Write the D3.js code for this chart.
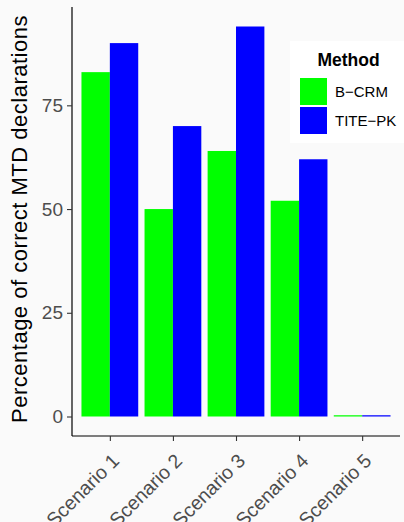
<!DOCTYPE html>
<html>
<head>
<meta charset="utf-8">
<script src="https://cdn.jsdelivr.net/npm/d3@7"></script>
<style>
  body { margin: 0; background: #fafafa; }
  svg { display: block; font-family: "Liberation Sans", Arial, sans-serif; }
</style>
</head>
<body>
<svg id="chart"></svg>
<script>
// data
const scenarios = ["Scenario 1", "Scenario 2", "Scenario 3", "Scenario 4", "Scenario 5"];
const methods = ["B\u2212CRM", "TITE\u2212PK"];
const bcrm = [83, 50, 64, 52, 0.3];
const titepk = [90, 70, 94, 62, 0.3];
const yTicks = [0, 25, 50, 75];
const colors = ["#00ff00", "#0000ff"];

const width = 404, height = 522;
const svg = d3.select("#chart").attr("width", width).attr("height", height);
svg.append("rect").attr("width", width).attr("height", height).attr("fill", "#fafafa");

const mLeft = 72, mRight = 400, mTop = 7, mBottom = 436;

// ggplot-like expand: discrete 0.6, continuous 5%
const x = d3.scaleLinear().domain([0.4, scenarios.length + 0.6]).range([mLeft, mRight]);
const maxV = d3.max(bcrm.concat(titepk));
const y = d3.scaleLinear().domain([-maxV * 0.05, maxV * 1.05]).range([mBottom, mTop]);

const barW = 0.45; // each dodge bar, total 0.9
const series = [bcrm, titepk];

series.forEach((vals, s) => {
  svg.append("g")
    .selectAll("rect")
    .data(vals)
    .join("rect")
    .attr("x", (d, i) => x(i + 1 - 0.45 + s * barW))
    .attr("width", x(barW) - x(0))
    .attr("y", d => y(d))
    .attr("height", d => y(0) - y(d))
    .attr("fill", colors[s]);
});

// y axis
const yAxis = svg.append("g")
  .attr("transform", `translate(${mLeft},0)`)
  .call(d3.axisLeft(y).tickValues(yTicks).tickSize(5).tickPadding(4));
yAxis.select(".domain").attr("d", `M0,${mTop}V${mBottom}`).attr("stroke", "#000").attr("stroke-width", 1.2);
yAxis.selectAll(".tick line").attr("stroke", "#333").attr("stroke-width", 1.1);
yAxis.selectAll(".tick text").attr("fill", "#4d4d4d").style("font-size", "19px");

// x axis
const xAxis = svg.append("g")
  .attr("transform", `translate(0,${mBottom})`)
  .call(d3.axisBottom(x).tickValues(d3.range(1, scenarios.length + 1))
    .tickFormat(d => scenarios[d - 1]).tickSize(5));
xAxis.select(".domain").attr("d", `M${mLeft},0H${mRight}`).attr("stroke", "#000").attr("stroke-width", 1.2);
xAxis.selectAll(".tick line").attr("stroke", "#333").attr("stroke-width", 1.1);
xAxis.selectAll(".tick text")
  .attr("fill", "#4d4d4d")
  .style("font-size", "19.5px")
  .attr("text-anchor", "end")
  .attr("x", 0).attr("y", 0)
  .attr("dy", null)
  .attr("transform", "translate(10,26) rotate(-45)");

// y title
svg.append("text")
  .attr("transform", `translate(27,219) rotate(-90)`)
  .attr("text-anchor", "middle")
  .style("font-size", "22px")
  .style("letter-spacing", "0.5px")
  .attr("fill", "#000")
  .text("Percentage of correct MTD declarations");

// legend
const lg = svg.append("g").attr("transform", "translate(290,41)");
lg.append("rect").attr("width", 114).attr("height", 102).attr("fill", "#fff");
lg.append("text").attr("x", 58.5).attr("y", 25)
  .attr("text-anchor", "middle")
  .style("font-size", "17.5px").style("font-weight", "bold")
  .text("Method");
methods.forEach((m, i) => {
  lg.append("rect").attr("x", 10).attr("y", 37 + i * 29).attr("width", 27).attr("height", 27).attr("fill", colors[i]);
  lg.append("text").attr("x", 45).attr("y", 37 + i * 29 + 19)
    .style("font-size", "15px").text(m);
});
</script>
</body>
</html>
